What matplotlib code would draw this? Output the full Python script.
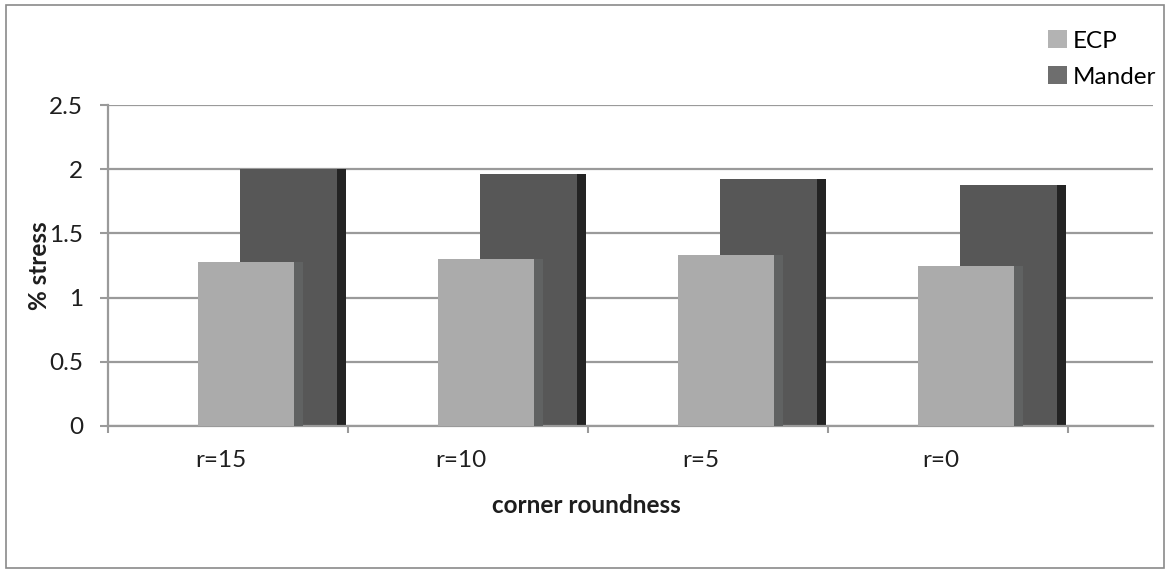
import matplotlib
matplotlib.use("Agg")
import matplotlib.pyplot as plt
from matplotlib.patches import Patch, Rectangle
import numpy as np

categories = ["r=15", "r=10", "r=5", "r=0"]
ecp = [1.28, 1.30, 1.33, 1.25]
mander = [2.00, 1.96, 1.92, 1.88]
yticks = [0, 0.5, 1, 1.5, 2, 2.5]
ytick_labels = ["0", "0.5", "1", "1.5", "2", "2.5"]

plt.rcParams['font.family'] = ['Lato', 'DejaVu Sans']

W, H = 1167, 572
fig = plt.figure(figsize=(W / 100, H / 100), dpi=100)
ax = fig.add_axes([108 / W, 146 / H, (1153 - 108) / W, (426 - 105) / H])

x = np.arange(len(categories))
grid_c = "#9a9a9a"
txt_c = "#1e1e1e"
fs = 17.5

# Mander (behind): front face + dark side face
ax.bar(x + 0.05, mander, width=0.404, align="edge", color="#575757", zorder=2, linewidth=0)
ax.bar(x + 0.454, mander, width=0.036, align="edge", color="#232323", zorder=2, linewidth=0)
# ECP (front)
ax.bar(x - 0.125, ecp, width=0.4, align="edge", color="#ababab", zorder=3, linewidth=0)
ax.bar(x + 0.275, ecp, width=0.0375, align="edge", color="#606262", zorder=3, linewidth=0)

ax.set_xlim(-0.5, 3.854)
ax.set_ylim(0, 2.5)
ax.set_yticks(yticks)
ax.set_yticklabels(ytick_labels, fontsize=fs, color=txt_c)
ax.yaxis.grid(True, color=grid_c, linewidth=1.6, zorder=0)
ax.set_axisbelow(True)

ax.set_xticks(np.arange(len(categories) + 1) - 0.5)
ax.set_xticklabels([])
ax.set_xticks(x - 0.03, minor=True)
ax.set_xticklabels(categories, minor=True, fontsize=fs, color=txt_c)
ax.tick_params(axis="x", which="minor", length=0, pad=17)
ax.tick_params(axis="x", which="major", length=5, color=grid_c, width=1.5, direction="out")
ax.tick_params(axis="y", length=6, color=grid_c, width=1.5, pad=12)

for s in ["top", "right"]:
    ax.spines[s].set_visible(False)
ax.spines["left"].set_color(grid_c)
ax.spines["left"].set_linewidth(1.6)
ax.spines["bottom"].set_color(grid_c)
ax.spines["bottom"].set_linewidth(1.6)

ax.set_ylabel("% stress", fontsize=fs, fontweight="bold", color=txt_c)
ax.yaxis.set_label_coords((51 - 108) / 1045, 0.5)
ax.set_xlabel("corner roundness", fontsize=fs, fontweight="bold", color=txt_c)
ax.xaxis.set_label_coords((586 - 108) / 1045, (426 - 494) / 321)

handles = [Patch(facecolor="#b3b3b3", label="ECP"), Patch(facecolor="#6e6e6e", label="Mander")]
fig.legend(handles=handles, loc="upper left", bbox_to_anchor=(1029 / W, 1 - 11 / H),
           frameon=False, fontsize=fs, handlelength=0.75, handleheight=0.75,
           handletextpad=0.25, labelspacing=0.6, borderpad=0.3)

fig.patches.append(Rectangle((6 / W, 4 / H), (1164 - 6) / W, (567 - 4) / H,
                             transform=fig.transFigure, fill=False,
                             edgecolor="#8a8a8a", linewidth=1.2))

fig.savefig("out.png", dpi=100)
